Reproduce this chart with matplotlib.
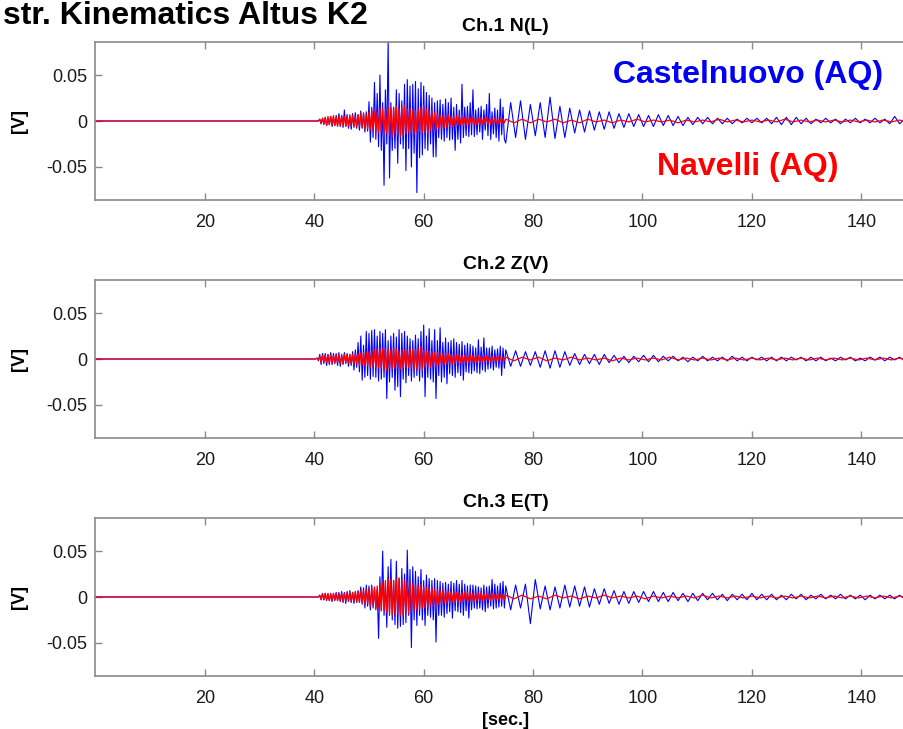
import matplotlib
matplotlib.use("Agg")
import matplotlib.pyplot as plt
import numpy as np

plt.rcParams["font.family"] = ["Liberation Sans", "DejaVu Sans"]
plt.rcParams["axes.unicode_minus"] = False

# --- data ----------------------------------------------------------------
# each trace: flat until 40 s, then a dense part (0.25 s steps, 40-75 s)
# and a slow tail (blue: 0.9 s steps, red: 1.5 s steps, from 75 s)
early_start, early_step = 40.0, 0.25
late_start, blue_late_step, red_late_step = 75.0, 0.9, 1.5

channel_titles = ["Ch.1 N(L)", "Ch.2 Z(V)", "Ch.3 E(T)"]

ch1_blue_early = [
    0, 0, 0, 0,
    0.002, -0.003, 0.003, -0.004,
    0.004, -0.005, 0.003, -0.004,
    0.005, -0.006, 0.004, -0.005,
    0.006, -0.005, 0.008, -0.006,
    0.006, -0.007, 0.012, -0.006,
    0.007, -0.008, 0.005, -0.009,
    0.008, -0.006, 0.009, -0.008,
    0.007, -0.010, 0.011, -0.008,
    0.009, -0.012, 0.010, -0.011,
    0.021, -0.023, 0.015, -0.018,
    0.042, -0.020, 0.030, -0.028,
    0.050, -0.032, 0.020, -0.070,
    0.034, -0.025, 0.087, -0.062,
    0.020, -0.032, 0.015, -0.030,
    0.034, -0.046, 0.030, -0.025,
    0.022, -0.030, 0.040, -0.054,
    0.045, -0.030, 0.038, -0.050,
    0.040, -0.035, 0.043, -0.078,
    0.035, -0.040, 0.042, -0.037,
    0.038, -0.030, 0.031, -0.032,
    0.028, -0.025, 0.025, -0.039,
    0.020, -0.039, 0.022, -0.018,
    0.023, -0.020, 0.018, -0.022,
    0.024, -0.018, 0.020, -0.021,
    0.025, -0.020, 0.015, -0.032,
    0.018, -0.020, 0.012, -0.024,
    0.040, -0.018, 0.015, -0.016,
    0.016, -0.017, 0.020, -0.015,
    0.034, -0.017, 0.012, -0.015,
    0.014, -0.012, 0.016, -0.020,
    0.012, -0.010, 0.018, -0.016,
    0.030, -0.020, 0.010, -0.014,
    0.014, -0.018, 0.012, -0.022,
    0.024, -0.015, 0.015, -0.020,
]
ch1_blue_late = [
    -0.024, 0.020, -0.018, 0.022, -0.020, 0.018, -0.016, 0.020, -0.018, 0.026,
    -0.019, 0.016, -0.018, 0.014, -0.013, 0.012, -0.012, 0.011, -0.010, 0.010,
    -0.009, 0.010, -0.008, 0.008, -0.007, 0.008, -0.006, 0.007, -0.006, 0.006,
    -0.006, 0.007, -0.005, 0.006, -0.005, 0.005, -0.005, 0.004, -0.004, 0.004,
    -0.003, 0.004, -0.003, 0.003, -0.003, 0.003, -0.003, 0.002, -0.002, 0.003,
    -0.002, 0.003, -0.002, 0.003, -0.003, 0.004, -0.004, 0.004, -0.004, 0.004,
    -0.003, 0.003, -0.003, 0.002, -0.002, 0.003, -0.002, 0.002, -0.003, 0.002,
    -0.002, 0.003, -0.002, 0.002, -0.002, 0.003, -0.002, 0.002, -0.003, 0.005,
    -0.003, 0.002, -0.002, 0.002,
]
ch1_red_early = [
    0, 0, 0, 0,
    0.002, -0.003, 0.003, -0.003,
    0.004, -0.005, 0.005, -0.004,
    0.005, -0.004, 0.006, -0.005,
    0.004, -0.006, 0.005, -0.005,
    0.006, -0.005, 0.005, -0.006,
    0.005, -0.006, 0.007, -0.005,
    0.006, -0.007, 0.005, -0.006,
    0.007, -0.006, 0.008, -0.007,
    0.008, -0.009, 0.007, -0.008,
    0.010, -0.009, 0.012, -0.010,
    0.011, -0.012, 0.010, -0.013,
    0.013, -0.011, 0.014, -0.012,
    0.012, -0.014, 0.016, -0.015,
    0.014, -0.017, 0.015, -0.013,
    0.016, -0.015, 0.013, -0.017,
    0.015, -0.016, 0.017, -0.014,
    0.013, -0.012, 0.014, -0.013,
    0.012, -0.014, 0.011, -0.012,
    0.013, -0.011, 0.015, -0.012,
    0.017, -0.013, 0.012, -0.014,
    0.011, -0.010, 0.012, -0.009,
    0.009, -0.008, 0.008, -0.009,
    0.007, -0.008, 0.006, -0.007,
    0.006, -0.007, 0.007, -0.006,
    0.005, -0.006, 0.006, -0.005,
    0.005, -0.005, 0.006, -0.004,
    0.004, -0.005, 0.004, -0.005,
    0.005, -0.004, 0.004, -0.004,
    0.004, -0.004, 0.003, -0.004,
    0.003, -0.004, 0.004, -0.003,
    0.003, -0.003, 0.004, -0.003,
    0.003, -0.004, 0.003, -0.003,
    0.003, -0.003, 0.002, -0.003,
    0.002, -0.003, 0.003, -0.002,
]
ch1_red_late = [
    0.002, -0.002, 0.002, -0.002, 0.002, -0.001, 0.002, -0.002, 0.001, -0.002,
    0.002, -0.001, 0.001, -0.002, 0.001, -0.001, 0.002, -0.001, 0.001, -0.001,
    0.001, -0.002, 0.001, -0.001, 0.001, -0.001, 0.002, -0.001, 0.001, -0.001,
    0.001, -0.001, 0.001, -0.001, 0.002, -0.001, 0.001, -0.001, 0.001, -0.001,
    0.001, -0.001, 0.001, -0.001, 0.001, -0.001, 0.001, -0.001, 0.001, -0.001,
    0.001,
]

ch2_blue_early = [
    0, 0, 0.001, -0.002,
    0.005, -0.006, 0.006, -0.005,
    0.006, -0.007, 0.005, -0.006,
    0.007, -0.006, 0.006, -0.005,
    0.006, -0.007, 0.007, -0.008,
    0.005, -0.006, 0.007, -0.005,
    0.006, -0.008, 0.005, -0.007,
    0.008, -0.012, 0.010, -0.009,
    0.018, -0.014, 0.025, -0.023,
    0.015, -0.020, 0.030, -0.018,
    0.028, -0.022, 0.031, -0.019,
    0.032, -0.020, 0.025, -0.024,
    0.030, -0.022, 0.028, -0.020,
    0.032, -0.043, 0.020, -0.025,
    0.025, -0.020, 0.028, -0.034,
    0.024, -0.030, 0.032, -0.041,
    0.028, -0.022, 0.030, -0.026,
    0.025, -0.018, 0.022, -0.024,
    0.020, -0.020, 0.026, -0.018,
    0.022, -0.024, 0.030, -0.020,
    0.037, -0.041, 0.025, -0.020,
    0.033, -0.022, 0.020, -0.025,
    0.032, -0.043, 0.020, -0.018,
    0.034, -0.025, 0.018, -0.020,
    0.023, -0.027, 0.018, -0.016,
    0.020, -0.018, 0.022, -0.020,
    0.018, -0.015, 0.016, -0.018,
    0.019, -0.023, 0.015, -0.014,
    0.017, -0.015, 0.016, -0.016,
    0.014, -0.013, 0.012, -0.015,
    0.021, -0.016, 0.013, -0.012,
    0.023, -0.014, 0.012, -0.011,
    0.012, -0.010, 0.014, -0.012,
    0.010, -0.009, 0.011, -0.010,
    0.014, -0.018, 0.012, -0.010,
]
ch2_blue_late = [
    0.010, -0.008, 0.009, -0.008, 0.008, -0.007, 0.008, -0.009, 0.009, -0.010,
    0.009, -0.009, 0.008, -0.007, 0.006, -0.006, 0.005, -0.005, 0.005, -0.006,
    0.005, -0.004, 0.004, -0.004, 0.003, -0.004, 0.003, -0.003, 0.004, -0.003,
    0.004, -0.003, 0.003, -0.002, 0.003, -0.002, 0.002, -0.003, 0.002, -0.002,
    0.003, -0.002, 0.002, -0.002, 0.002, -0.002, 0.003, -0.002, 0.002, -0.002,
    0.002, -0.001, 0.002, -0.002, 0.002, -0.002, 0.002, -0.002, 0.002, -0.001,
    0.002, -0.002, 0.002, -0.002, 0.002, -0.002, 0.001, -0.002, 0.002, -0.001,
    0.002, -0.002, 0.001, -0.002, 0.002, -0.001, 0.002, -0.002, 0.002, -0.001,
    0.002, -0.002, 0.001, -0.001,
]
ch2_red_early = [
    0, 0, 0.001, -0.001,
    0.003, -0.004, 0.004, -0.003,
    0.004, -0.004, 0.005, -0.004,
    0.004, -0.005, 0.004, -0.004,
    0.005, -0.004, 0.004, -0.005,
    0.004, -0.005, 0.005, -0.004,
    0.005, -0.004, 0.005, -0.005,
    0.005, -0.006, 0.006, -0.005,
    0.006, -0.007, 0.007, -0.006,
    0.007, -0.008, 0.007, -0.007,
    0.008, -0.009, 0.009, -0.008,
    0.010, -0.009, 0.011, -0.010,
    0.012, -0.010, 0.011, -0.012,
    0.011, -0.012, 0.012, -0.010,
    0.010, -0.011, 0.012, -0.010,
    0.011, -0.010, 0.009, -0.011,
    0.009, -0.010, 0.010, -0.009,
    0.010, -0.009, 0.011, -0.010,
    0.011, -0.012, 0.010, -0.011,
    0.012, -0.010, 0.014, -0.012,
    0.010, -0.009, 0.009, -0.008,
    0.008, -0.009, 0.008, -0.007,
    0.007, -0.008, 0.007, -0.006,
    0.006, -0.007, 0.006, -0.006,
    0.006, -0.005, 0.006, -0.005,
    0.005, -0.006, 0.005, -0.005,
    0.005, -0.004, 0.005, -0.004,
    0.004, -0.005, 0.004, -0.004,
    0.004, -0.004, 0.005, -0.004,
    0.004, -0.003, 0.004, -0.004,
    0.003, -0.004, 0.003, -0.003,
    0.003, -0.003, 0.004, -0.003,
    0.003, -0.003, 0.003, -0.002,
    0.002, -0.003, 0.003, -0.002,
    0.003, -0.002, 0.002, -0.002,
]
ch2_red_late = [
    0.002, -0.002, 0.002, -0.001, 0.002, -0.002, 0.001, -0.001, 0.002, -0.001,
    0.001, -0.001, 0.001, -0.002, 0.001, -0.001, 0.001, -0.001, 0.001, -0.001,
    0.002, -0.001, 0.001, -0.001, 0.001, -0.001, 0.001, -0.001, 0.001, -0.001,
    0.001, -0.001, 0.001, -0.001, 0.001, -0.001, 0.001, -0.001, 0.001, -0.001,
    0.001, -0.001, 0.001, -0.001, 0.001, -0.001, 0.001, -0.001, 0.001, -0.001,
    0.001,
]

ch3_blue_early = [
    0, 0, 0, 0,
    0.002, -0.003, 0.004, -0.003,
    0.004, -0.004, 0.003, -0.004,
    0.004, -0.005, 0.004, -0.004,
    0.005, -0.004, 0.005, -0.005,
    0.006, -0.006, 0.005, -0.007,
    0.006, -0.005, 0.007, -0.006,
    0.005, -0.007, 0.006, -0.006,
    0.007, -0.006, 0.011, -0.008,
    0.010, -0.012, 0.013, -0.010,
    0.012, -0.014, 0.013, -0.012,
    0.010, -0.014, 0.008, -0.045,
    0.022, -0.015, 0.050, -0.020,
    0.015, -0.033, 0.033, -0.020,
    0.041, -0.025, 0.018, -0.030,
    0.039, -0.034, 0.020, -0.032,
    0.031, -0.030, 0.025, -0.028,
    0.051, -0.020, 0.030, -0.055,
    0.033, -0.025, 0.028, -0.031,
    0.022, -0.020, 0.030, -0.025,
    0.018, -0.031, 0.024, -0.020,
    0.020, -0.022, 0.018, -0.025,
    0.020, -0.049, 0.018, -0.020,
    0.017, -0.020, 0.015, -0.022,
    0.016, -0.018, 0.014, -0.016,
    0.017, -0.023, 0.015, -0.015,
    0.018, -0.016, 0.014, -0.017,
    0.018, -0.020, 0.014, -0.015,
    0.012, -0.023, 0.013, -0.014,
    0.013, -0.012, 0.012, -0.013,
    0.011, -0.012, 0.010, -0.014,
    0.013, -0.016, 0.011, -0.012,
    0.012, -0.010, 0.019, -0.013,
    0.014, -0.012, 0.012, -0.011,
    0.015, -0.010, 0.017, -0.012,
]
ch3_blue_late = [
    0.012, -0.014, 0.013, -0.012, 0.014, -0.029, 0.019, -0.013, 0.012, -0.014,
    0.011, -0.012, 0.013, -0.011, 0.012, -0.010, 0.011, -0.011, 0.009, -0.008,
    0.009, -0.007, 0.007, -0.008, 0.006, -0.007, 0.006, -0.006, 0.006, -0.005,
    0.006, -0.005, 0.005, -0.005, 0.005, -0.004, 0.004, -0.005, 0.004, -0.004,
    0.004, -0.003, 0.004, -0.003, 0.003, -0.004, 0.003, -0.003, 0.003, -0.003,
    0.004, -0.003, 0.003, -0.003, 0.003, -0.003, 0.002, -0.003, 0.003, -0.002,
    0.003, -0.003, 0.002, -0.002, 0.003, -0.002, 0.002, -0.002, 0.003, -0.002,
    0.002, -0.002, 0.002, -0.003, 0.002, -0.002, 0.002, -0.002, 0.002, -0.002,
    0.002, -0.002, 0.002, -0.002,
]
ch3_red_early = [
    0, 0, 0, 0,
    0.002, -0.003, 0.003, -0.003,
    0.004, -0.003, 0.004, -0.004,
    0.003, -0.004, 0.004, -0.003,
    0.004, -0.004, 0.003, -0.004,
    0.004, -0.005, 0.004, -0.004,
    0.005, -0.004, 0.005, -0.005,
    0.005, -0.005, 0.006, -0.005,
    0.006, -0.006, 0.007, -0.006,
    0.007, -0.008, 0.008, -0.007,
    0.009, -0.010, 0.010, -0.009,
    0.011, -0.012, 0.012, -0.013,
    0.014, -0.015, 0.016, -0.014,
    0.018, -0.017, 0.020, -0.018,
    0.019, -0.020, 0.018, -0.019,
    0.020, -0.018, 0.021, -0.020,
    0.019, -0.021, 0.018, -0.017,
    0.016, -0.018, 0.017, -0.015,
    0.014, -0.015, 0.013, -0.014,
    0.012, -0.013, 0.014, -0.012,
    0.011, -0.012, 0.010, -0.011,
    0.010, -0.009, 0.011, -0.010,
    0.008, -0.009, 0.008, -0.008,
    0.007, -0.007, 0.008, -0.006,
    0.006, -0.007, 0.006, -0.006,
    0.006, -0.005, 0.006, -0.006,
    0.005, -0.006, 0.005, -0.005,
    0.005, -0.005, 0.006, -0.004,
    0.005, -0.004, 0.005, -0.005,
    0.004, -0.005, 0.004, -0.004,
    0.004, -0.004, 0.005, -0.004,
    0.004, -0.004, 0.004, -0.003,
    0.003, -0.004, 0.004, -0.003,
    0.003, -0.003, 0.004, -0.003,
    0.003, -0.003, 0.003, -0.003,
]
ch3_red_late = [
    0.002, -0.002, 0.002, -0.002, 0.001, -0.002, 0.002, -0.001, 0.001, -0.002,
    0.001, -0.001, 0.002, -0.001, 0.001, -0.001, 0.001, -0.002, 0.001, -0.001,
    0.001, -0.001, 0.001, -0.001, 0.002, -0.001, 0.001, -0.001, 0.001, -0.001,
    0.001, -0.001, 0.001, -0.001, 0.001, -0.001, 0.001, -0.001, 0.001, -0.001,
    0.001, -0.001, 0.001, -0.001, 0.001, -0.001, 0.001, -0.001, 0.001, -0.001,
    0.001,
]

x_ticks = [20, 40, 60, 80, 100, 120, 140]
y_ticks = [-0.05, 0, 0.05]
y_tick_labels = ["-0.05", "0", "0.05"]


def build_trace(early, late, late_step):
    t_early = early_start + early_step * np.arange(len(early))
    t_late = late_start + late_step * np.arange(len(late))
    t = np.concatenate([[0.0], t_early, t_late])
    v = np.concatenate([[0.0], early, late])
    return t, v


traces = [
    (ch1_blue_early, ch1_blue_late, ch1_red_early, ch1_red_late),
    (ch2_blue_early, ch2_blue_late, ch2_red_early, ch2_red_late),
    (ch3_blue_early, ch3_blue_late, ch3_red_early, ch3_red_late),
]

W, H = 904, 729
fig = plt.figure(figsize=(W / 100, H / 100), dpi=100)

ax_left, ax_right = 95.5, 916.0
panel_px = [(42, 200), (280, 438), (518, 676)]
spine_gray = "#8a8a8a"

axes = []
for i, (top, bot) in enumerate(panel_px):
    ax = fig.add_axes([ax_left / W, 1 - bot / H, (ax_right - ax_left) / W, (bot - top) / H])
    b_early, b_late, r_early, r_late = traces[i]
    tb, vb = build_trace(b_early, b_late, blue_late_step)
    tr, vr = build_trace(r_early, r_late, red_late_step)
    ax.plot(tb, vb, color=(0, 0, 1), lw=0.8)
    ax.plot(tr, vr, color=(1, 0, 0), lw=0.9)
    ax.set_xlim(0, 150)
    ax.set_ylim(-0.086, 0.086)
    ax.set_xticks(x_ticks)
    ax.set_yticks(y_ticks)
    ax.set_yticklabels(y_tick_labels)
    ax.tick_params(direction="in", length=5, width=1, color=spine_gray,
                   top=True, right=True, labelsize=13, labelcolor="#1a1a1a")
    ax.tick_params(axis="x", pad=10)
    ax.tick_params(axis="y", pad=6)
    for s in ax.spines.values():
        s.set_color(spine_gray)
        s.set_linewidth(1.2)
    ax.set_title(channel_titles[i], fontsize=14, fontweight="bold", pad=8)
    ax.set_ylabel("[V]", fontsize=13, fontweight="bold")
    ax.yaxis.set_label_coords(-0.082, 0.5)
    axes.append(ax)

axes[-1].set_xlabel("[sec.]", fontsize=13, fontweight="bold", labelpad=4)

fig.text(368 / W, 1 - 16 / H, "str. Kinematics Altus K2", ha="right", va="center",
         fontsize=23, fontweight="bold")
fig.text(748 / W, 1 - 75 / H, "Castelnuovo (AQ)", ha="center", va="center",
         fontsize=23, fontweight="bold", color=(0, 0, 0.95))
fig.text(748 / W, 1 - 167 / H, "Navelli (AQ)", ha="center", va="center",
         fontsize=23, fontweight="bold", color=(1, 0, 0))

fig.savefig("out.png", dpi=100)
